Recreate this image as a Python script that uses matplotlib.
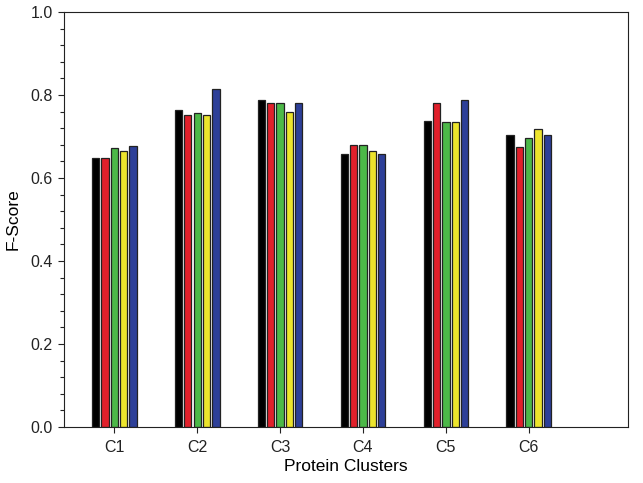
import numpy as np
import matplotlib
matplotlib.use("Agg")
import matplotlib.pyplot as plt
from matplotlib.ticker import MultipleLocator

plt.rcParams['font.family'] = ['Liberation Sans', 'DejaVu Sans']

clusters = ["C1", "C2", "C3", "C4", "C5", "C6"]
s1 = [0.649, 0.764, 0.789, 0.659, 0.738, 0.704]
s2 = [0.649, 0.751, 0.781, 0.679, 0.781, 0.675]
s3 = [0.673, 0.757, 0.781, 0.679, 0.735, 0.697]
s4 = [0.665, 0.753, 0.760, 0.665, 0.735, 0.719]
s5 = [0.678, 0.815, 0.781, 0.658, 0.788, 0.704]
series = [s1, s2, s3, s4, s5]
colors = ["#000000", "#e1202b", "#4cb848", "#ece42c", "#2d3f98"]

fig = plt.figure(figsize=(6.43, 4.83), dpi=100)
ax = fig.add_axes([64/643, 1 - 427/483, 564/643, 415/483])

x = np.arange(1, len(clusters) + 1)
pitch = 0.113
width = 0.088
for i, (vals, c) in enumerate(zip(series, colors)):
    ax.bar(x + (i - 2) * pitch, vals, width=width, color=c,
           edgecolor="#222222", linewidth=0.9)

ax.set_xlim(0.393, 7.197)
ax.set_ylim(0, 1.0)
ax.set_xticks(x)
ax.set_xticklabels(clusters)
ax.yaxis.set_major_locator(MultipleLocator(0.2))
ax.yaxis.set_minor_locator(MultipleLocator(0.04))
ax.yaxis.set_major_formatter(plt.FormatStrFormatter("%.1f"))
ax.tick_params(axis="both", which="major", direction="out", length=4.5,
               width=0.8, labelsize=11.5, colors="#222222")
ax.tick_params(axis="x", which="major", pad=5)
ax.tick_params(axis="y", which="minor", direction="out", length=3, width=0.8,
               colors="#222222")
for sp in ax.spines.values():
    sp.set_linewidth(0.8)
    sp.set_color("#222222")

ax.set_xlabel("Protein Clusters", fontsize=12.5, labelpad=3)
ax.set_ylabel("F-Score", fontsize=12.5, labelpad=7)

fig.savefig("out.png", dpi=100)
